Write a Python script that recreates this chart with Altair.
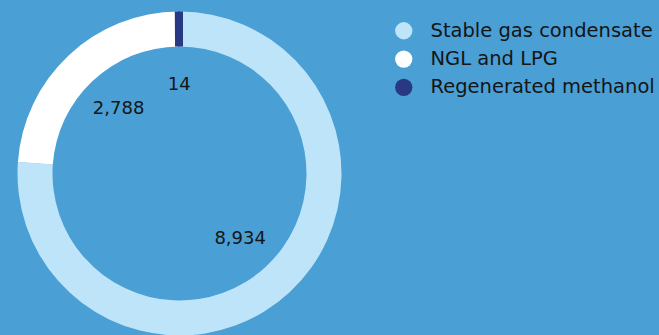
import altair as alt
import pandas as pd

categories = ["Stable gas condensate", "NGL and LPG", "Regenerated methanol"]
values = [8934, 2788, 14]
colors = ["#BEE4F9", "#FFFFFF", "#283883"]

df = pd.DataFrame({"category": categories, "value": values, "idx": list(range(len(categories)))})

FONT = "DejaVu Sans"
BG = "#4A9FD5"
TXT = "#151515"

base = alt.Chart(df).encode(
    theta=alt.Theta("value:Q", stack=True),
    order=alt.Order("idx:Q"),
    x=alt.value(179.5),
    y=alt.value(173.5),
)

color_scale = alt.Scale(domain=categories, range=colors)

arcs = base.mark_arc(outerRadius=162, innerRadius=127).encode(
    color=alt.Color(
        "category:N",
        scale=color_scale,
        sort=categories,
        legend=alt.Legend(
            title=None,
            orient="none",
            legendX=394,
            legendY=21,
            symbolType="circle",
            symbolSize=300,
            symbolStrokeWidth=0,
            symbolOpacity=1,
            labelFont=FONT,
            labelFontSize=19.5,
            labelColor=TXT,
            labelOffset=17,
            rowPadding=7.3,
            padding=0,
            labelLimit=400,
        ),
    ),
)

# widen the tiny methanol sliver so it stays visible (stroke kept inside the ring)
sliver = base.mark_arc(outerRadius=158.5, innerRadius=130.5, strokeWidth=7).encode(
    fill=alt.Color("category:N", scale=color_scale, legend=None),
    stroke=alt.Color("category:N", scale=color_scale, legend=None),
    opacity=alt.condition(
        alt.datum.category == "Regenerated methanol", alt.value(1), alt.value(0)
    ),
)

labels = base.mark_text(
    radius=89, font=FONT, fontSize=18, color=TXT, align="center", baseline="middle"
).encode(text=alt.Text("value:Q", format=","))

chart = (
    alt.layer(arcs, sliver, labels)
    .properties(width=659, height=335, autosize=alt.AutoSizeParams(type="none"), padding=0, background=BG)
    .configure_view(stroke=None)
)

chart.save("out.html", embed_options={"renderer": "svg", "actions": False})
